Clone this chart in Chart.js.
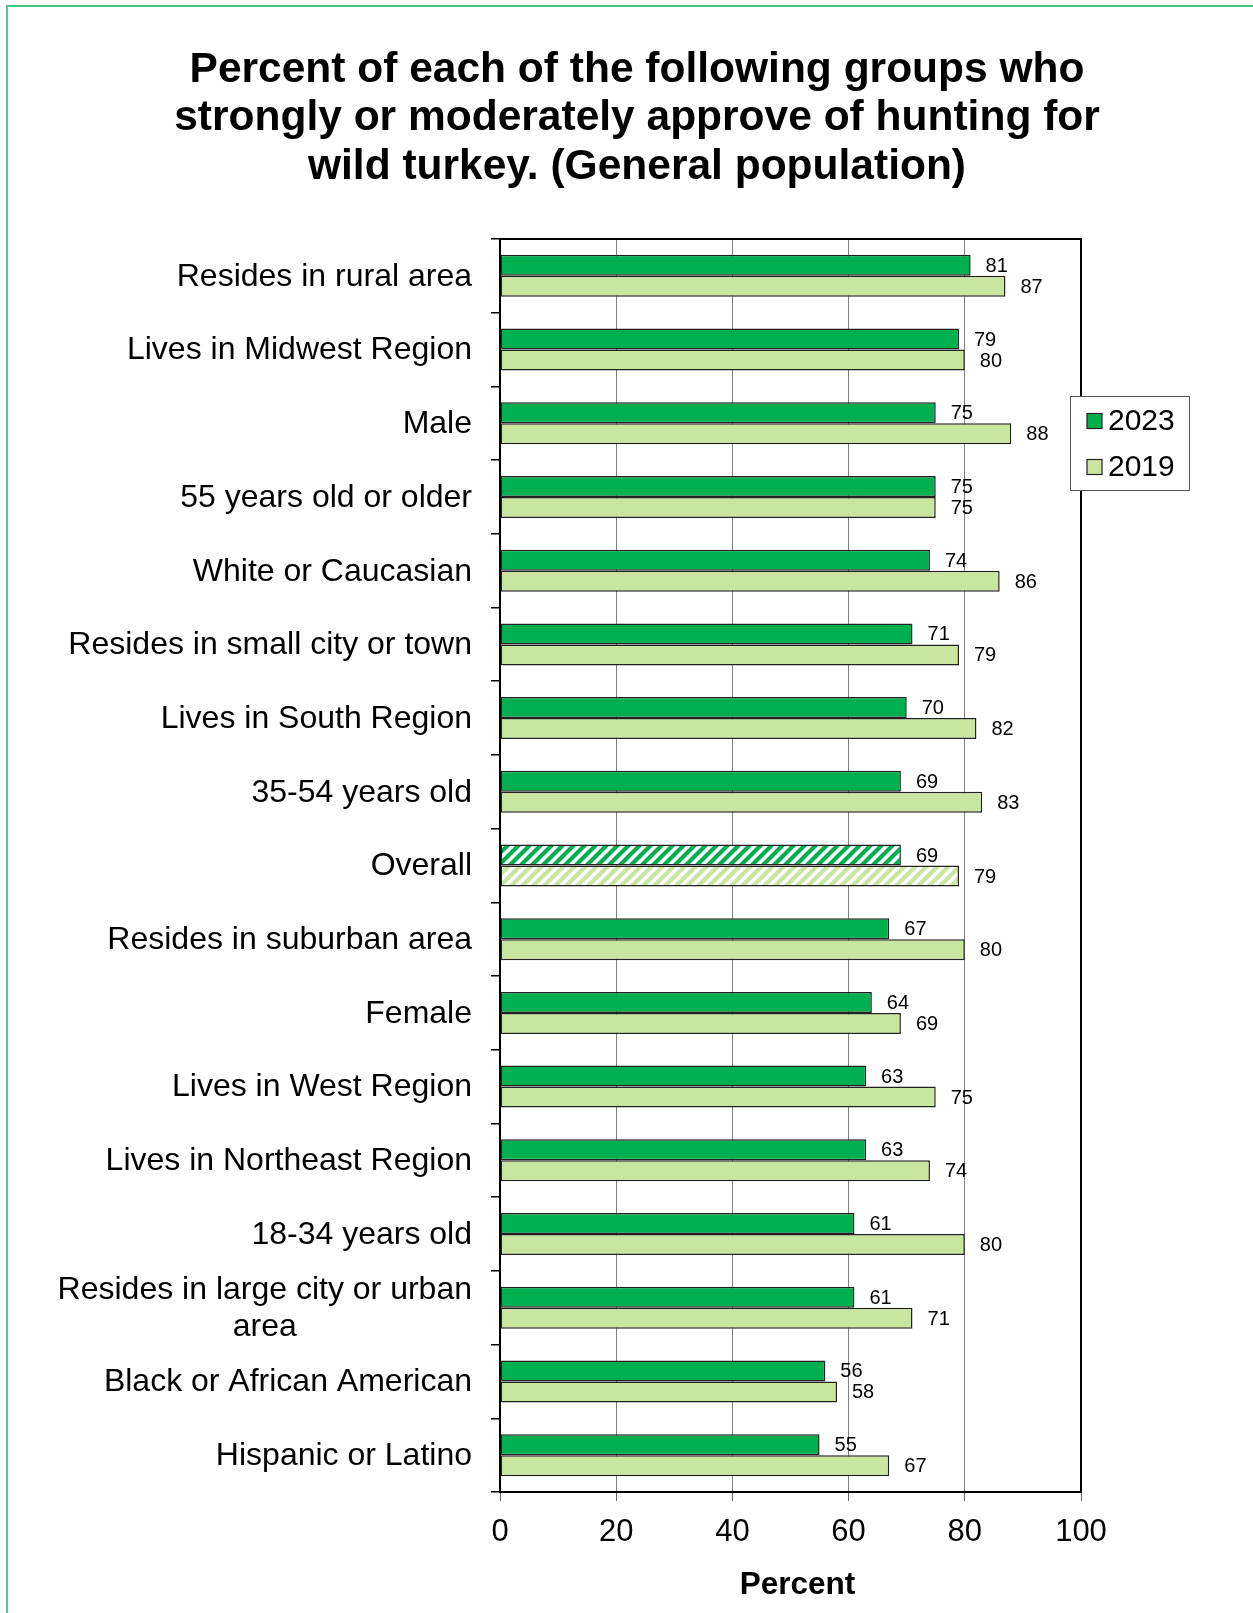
<!DOCTYPE html>
<html>
<head>
<meta charset="utf-8">
<title>Approval of hunting for wild turkey</title>
<script src="https://cdn.jsdelivr.net/npm/chart.js@4.4.0/dist/chart.umd.min.js"></script>
<style>
  html, body { margin: 0; padding: 0; background: #fff; }
  #wrap { position: relative; width: 1253px; height: 1613px; overflow: hidden; }
  #frame {
    position: absolute; left: 6px; top: 5px; width: 1400px; height: 1800px;
    border-top: 2px solid #3fc77e; border-left: 2px solid #55c98c;
    pointer-events: none;
  }
  #chart { position: absolute; left: 0; top: 0; }
</style>
</head>
<body>
<div id="wrap">
  <canvas id="chart" width="1253" height="1613"></canvas>
  <div id="frame"></div>
</div>
<script>
// chart data
const titleLines = [
  'Percent of each of the following groups who',
  'strongly or moderately approve of hunting for',
  'wild turkey. (General population)'
];
const categories = [
  'Resides in rural area',
  'Lives in Midwest Region',
  'Male',
  '55 years old or older',
  'White or Caucasian',
  'Resides in small city or town',
  'Lives in South Region',
  '35-54 years old',
  'Overall',
  'Resides in suburban area',
  'Female',
  'Lives in West Region',
  'Lives in Northeast Region',
  '18-34 years old',
  ['Resides in large city or urban', 'area'],
  'Black or African American',
  'Hispanic or Latino'
];
const approve2023 = [81, 79, 75, 75, 74, 71, 70, 69, 69, 67, 64, 63, 63, 61, 61, 56, 55];
const approve2019 = [87, 80, 88, 75, 86, 79, 82, 83, 79, 80, 69, 75, 74, 80, 71, 58, 67];
const seriesNames = ['2023', '2019'];
const xTickStep = 20;
const axisTitle = 'Percent';

const FONT = '"Liberation Sans", Arial, Helvetica, sans-serif';
const GREEN = '#00b050';
const LIGHT_GREEN = '#c8e6a0';
const overallIndex = categories.indexOf('Overall');

const canvas = document.getElementById('chart');
const ctx = canvas.getContext('2d');

// diagonal hatch used for the "Overall" bars
function makeHatch(color) {
  const tile = document.createElement('canvas');
  tile.width = 11;
  tile.height = 11;
  const g = tile.getContext('2d');
  g.fillStyle = '#fff';
  g.fillRect(0, 0, 11, 11);
  g.strokeStyle = color;
  g.lineWidth = 4.2;
  g.beginPath();
  g.moveTo(-3, 14); g.lineTo(14, -3);
  g.moveTo(-3, 3); g.lineTo(3, -3);
  g.moveTo(8, 14); g.lineTo(14, 8);
  g.stroke();
  return ctx.createPattern(tile, 'repeat');
}

const hatch2023 = makeHatch(GREEN);
const hatch2019 = makeHatch(LIGHT_GREEN);

const fills2023 = categories.map((_, i) => i === overallIndex ? hatch2023 : GREEN);
const fills2019 = categories.map((_, i) => i === overallIndex ? hatch2019 : LIGHT_GREEN);

// Draws the plot frame on top of the bars
const plotFrame = {
  id: 'plotFrame',
  afterDatasetsDraw(chart) {
    const a = chart.chartArea;
    const c = chart.ctx;
    c.save();
    c.strokeStyle = '#000';
    c.lineWidth = 2;
    c.strokeRect(a.left, a.top, a.right - a.left, a.bottom - a.top);
    c.restore();
  }
};

// Value labels at the end of each bar
const valueLabels = {
  id: 'valueLabels',
  afterDatasetsDraw(chart) {
    const c = chart.ctx;
    c.save();
    c.font = '20px ' + FONT;
    c.fillStyle = '#000';
    c.textAlign = 'left';
    c.textBaseline = 'middle';
    chart.data.datasets.forEach((ds, i) => {
      chart.getDatasetMeta(i).data.forEach((bar, j) => {
        c.fillText(String(ds.data[j]), bar.x + 15, bar.y + 1);
      });
    });
    c.restore();
  }
};

// Category labels (multi-line ones are centred on their widest line)
const categoryLabels = {
  id: 'categoryLabels',
  afterDraw(chart) {
    const c = chart.ctx;
    const yScale = chart.scales.y;
    const right = chart.chartArea.left - 28;
    c.save();
    c.font = '32px ' + FONT;
    c.fillStyle = '#000';
    c.textBaseline = 'middle';
    categories.forEach((label, i) => {
      const yc = yScale.getPixelForValue(i) + 1;
      if (!Array.isArray(label)) {
        c.textAlign = 'right';
        c.fillText(label, right, yc);
        return;
      }
      const w = Math.max(...label.map(l => c.measureText(l).width));
      c.textAlign = 'center';
      label.forEach((line, k) => {
        c.fillText(line, right - w / 2, yc + (k - (label.length - 1) / 2) * 37);
      });
    });
    c.restore();
  }
};

// Title, x-axis title and boxed legend
const titleAndLegend = {
  id: 'titleAndLegend',
  afterDraw(chart) {
    const c = chart.ctx;
    const a = chart.chartArea;
    c.save();

    c.font = 'bold 42.5px ' + FONT;
    c.fillStyle = '#000';
    c.textAlign = 'center';
    c.textBaseline = 'middle';
    titleLines.forEach((line, i) => c.fillText(line, 637, 70 + i * 48.4));

    c.font = 'bold 31.5px ' + FONT;
    c.fillText(axisTitle, (a.left + a.right) / 2 + 7, 1585);

    const bx = a.right - 11, by = a.top + 157, bw = 119, bh = 94;
    c.fillStyle = '#fff';
    c.fillRect(bx, by, bw, bh);
    c.strokeStyle = '#555';
    c.lineWidth = 1;
    c.strokeRect(bx + 0.5, by + 0.5, bw, bh);

    c.font = '30px ' + FONT;
    c.textAlign = 'left';
    chart.data.datasets.forEach((ds, i) => {
      const cy = by + 25 + i * 46;
      c.fillStyle = i === 0 ? GREEN : LIGHT_GREEN;
      c.fillRect(bx + 17, cy - 7.5, 15, 15);
      c.strokeStyle = '#222';
      c.lineWidth = 1.2;
      c.strokeRect(bx + 17, cy - 7.5, 15, 15);
      c.fillStyle = '#000';
      c.fillText(ds.label, bx + 38, cy + 1);
    });
    c.restore();
  }
};

new Chart(ctx, {
  type: 'bar',
  data: {
    labels: categories.map(l => Array.isArray(l) ? l.join(' ') : l),
    datasets: [
      {
        label: seriesNames[0],
        data: approve2023,
        backgroundColor: fills2023,
        borderColor: '#222',
        borderWidth: 1.5,
        borderSkipped: false,
        barPercentage: 1.0,
        categoryPercentage: 0.57
      },
      {
        label: seriesNames[1],
        data: approve2019,
        backgroundColor: fills2019,
        borderColor: '#222',
        borderWidth: 1.5,
        borderSkipped: false,
        barPercentage: 1.0,
        categoryPercentage: 0.57
      }
    ]
  },
  options: {
    indexAxis: 'y',
    responsive: false,
    animation: false,
    layout: { padding: { top: 239, right: 172, left: 0, bottom: 0 } },
    plugins: {
      legend: { display: false },
      title: { display: false },
      tooltip: { enabled: false }
    },
    scales: {
      x: {
        min: 0,
        max: 100,
        border: { display: false },
        grid: { color: '#808080', lineWidth: 1, tickColor: '#666', tickLength: 9 },
        ticks: { stepSize: xTickStep, color: '#000', padding: 13, font: { family: FONT, size: 31 } },
        title: { display: false },
        afterFit(scale) { scale.height = 121; }
      },
      y: {
        type: 'category',
        border: { display: false },
        grid: { offset: true, drawOnChartArea: false, tickColor: '#000', tickLength: 9, lineWidth: 1.5 },
        ticks: { color: 'rgba(0,0,0,0)', font: { family: FONT, size: 12 } },
        afterFit(scale) { scale.width = 500; }
      }
    }
  },
  plugins: [plotFrame, valueLabels, categoryLabels, titleAndLegend]
});
</script>
</body>
</html>
